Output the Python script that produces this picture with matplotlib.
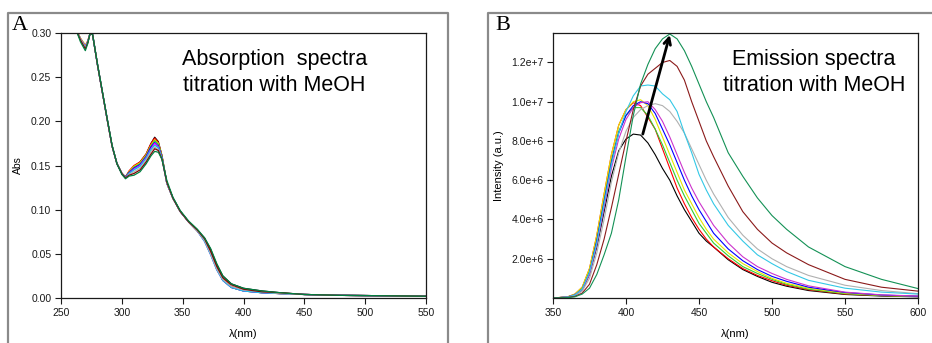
import matplotlib
matplotlib.use("Agg")
import matplotlib.pyplot as plt
from matplotlib.lines import Line2D

# ---------------- absorption titration (panel A) ----------------
abs_wl = [262, 266, 270, 272, 274, 276, 280, 284, 288, 292, 296, 300, 303, 306, 310,
          315, 320, 324, 327, 330, 333, 337, 342, 348, 355, 362, 368, 373, 378, 383,
          390, 400, 415, 430, 450, 480, 520, 550]

abs_black = [0.305, 0.293, 0.284, 0.290, 0.300, 0.298, 0.264, 0.233, 0.202, 0.172, 0.152, 0.141, 0.137, 0.143, 0.149,
             0.154, 0.163, 0.175, 0.182, 0.177, 0.161, 0.130, 0.113, 0.098, 0.086, 0.077, 0.068, 0.055, 0.038, 0.025,
             0.016, 0.011, 0.008, 0.006, 0.004, 0.003, 0.0025, 0.002]
abs_red = [0.305, 0.294, 0.286, 0.291, 0.300, 0.298, 0.264, 0.233, 0.202, 0.172, 0.152, 0.141, 0.137, 0.144, 0.150,
           0.154, 0.163, 0.175, 0.181, 0.176, 0.161, 0.130, 0.113, 0.098, 0.086, 0.076, 0.066, 0.052, 0.035, 0.022,
           0.013, 0.009, 0.007, 0.005, 0.004, 0.003, 0.0025, 0.002]
abs_yellow = [0.305, 0.294, 0.286, 0.291, 0.300, 0.298, 0.264, 0.233, 0.202, 0.172, 0.152, 0.141, 0.137, 0.143, 0.149,
              0.153, 0.162, 0.173, 0.179, 0.175, 0.160, 0.130, 0.113, 0.098, 0.086, 0.076, 0.066, 0.051, 0.034, 0.021,
              0.012, 0.008, 0.006, 0.005, 0.004, 0.003, 0.0025, 0.002]
abs_lime = [0.305, 0.293, 0.285, 0.290, 0.300, 0.298, 0.264, 0.233, 0.202, 0.172, 0.152, 0.141, 0.137, 0.142, 0.148,
            0.152, 0.161, 0.172, 0.178, 0.174, 0.160, 0.130, 0.113, 0.098, 0.086, 0.076, 0.065, 0.050, 0.033, 0.020,
            0.012, 0.008, 0.006, 0.005, 0.004, 0.003, 0.0025, 0.002]
abs_blue = [0.305, 0.293, 0.284, 0.290, 0.300, 0.298, 0.264, 0.233, 0.202, 0.172, 0.152, 0.141, 0.137, 0.142, 0.147,
            0.151, 0.160, 0.171, 0.176, 0.172, 0.159, 0.130, 0.113, 0.098, 0.086, 0.076, 0.065, 0.050, 0.033, 0.020,
            0.012, 0.008, 0.006, 0.005, 0.004, 0.003, 0.0025, 0.002]
abs_magenta = [0.305, 0.293, 0.285, 0.290, 0.300, 0.298, 0.264, 0.233, 0.202, 0.172, 0.152, 0.141, 0.136, 0.141, 0.146,
               0.150, 0.159, 0.169, 0.175, 0.171, 0.158, 0.130, 0.113, 0.098, 0.086, 0.076, 0.064, 0.049, 0.032, 0.020,
               0.012, 0.008, 0.006, 0.005, 0.004, 0.003, 0.0025, 0.002]
abs_cyan = [0.305, 0.293, 0.284, 0.290, 0.300, 0.298, 0.264, 0.233, 0.202, 0.172, 0.152, 0.141, 0.136, 0.141, 0.145,
            0.149, 0.158, 0.168, 0.173, 0.170, 0.158, 0.130, 0.113, 0.098, 0.086, 0.076, 0.064, 0.049, 0.032, 0.020,
            0.012, 0.008, 0.006, 0.005, 0.004, 0.003, 0.0025, 0.002]
abs_gray = [0.305, 0.293, 0.283, 0.289, 0.300, 0.298, 0.264, 0.233, 0.202, 0.172, 0.152, 0.141, 0.136, 0.140, 0.143,
            0.147, 0.156, 0.166, 0.171, 0.168, 0.157, 0.130, 0.113, 0.098, 0.086, 0.076, 0.065, 0.050, 0.033, 0.021,
            0.013, 0.009, 0.007, 0.005, 0.004, 0.003, 0.0025, 0.002]
abs_brown = [0.305, 0.292, 0.282, 0.289, 0.300, 0.298, 0.264, 0.233, 0.202, 0.172, 0.152, 0.141, 0.136, 0.139, 0.141,
             0.145, 0.154, 0.163, 0.169, 0.167, 0.157, 0.131, 0.113, 0.098, 0.086, 0.077, 0.067, 0.053, 0.036, 0.023,
             0.015, 0.010, 0.007, 0.006, 0.004, 0.003, 0.0025, 0.002]
abs_seagreen = [0.305, 0.290, 0.280, 0.288, 0.300, 0.298, 0.265, 0.234, 0.203, 0.173, 0.152, 0.140, 0.135, 0.138, 0.139,
                0.143, 0.152, 0.161, 0.166, 0.165, 0.157, 0.133, 0.114, 0.099, 0.087, 0.078, 0.068, 0.056, 0.039, 0.025,
                0.016, 0.011, 0.008, 0.006, 0.004, 0.003, 0.0025, 0.002]

# ---------------- emission titration (panel B), intensity in 1e6 a.u. ----------------
em_wl = [350, 360, 365, 370, 375, 380, 385, 390, 395, 400, 405, 410, 415, 420, 425, 430,
         435, 440, 445, 450, 455, 460, 470, 480, 490, 500, 510, 525, 550, 575, 600]

em_black = [0, 0.05, 0.15, 0.40, 1.2, 2.6, 4.4, 6.2, 7.5, 8.1, 8.35, 8.3, 7.9, 7.3, 6.6, 6.0,
            5.2, 4.5, 3.9, 3.3, 2.9, 2.6, 1.95, 1.45, 1.1, 0.8, 0.6, 0.38, 0.18, 0.10, 0.06]
em_red = [0, 0.06, 0.20, 0.55, 1.5, 3.2, 5.3, 7.3, 8.8, 9.6, 9.95, 9.8, 9.2, 8.6, 7.6, 6.6,
          5.6, 4.8, 4.1, 3.5, 3.0, 2.6, 2.0, 1.5, 1.15, 0.88, 0.65, 0.42, 0.20, 0.12, 0.08]
em_lime = [0, 0.05, 0.18, 0.50, 1.4, 3.0, 5.0, 7.0, 8.5, 9.3, 9.7, 9.7, 9.3, 8.6, 7.8, 6.9,
           6.0, 5.2, 4.5, 3.8, 3.3, 2.8, 2.15, 1.6, 1.25, 0.95, 0.7, 0.45, 0.22, 0.12, 0.08]
em_yellow = [0, 0.06, 0.20, 0.55, 1.5, 3.2, 5.3, 7.3, 8.8, 9.6, 10.0, 10.1, 9.8, 9.1, 8.2, 7.3,
             6.4, 5.5, 4.8, 4.1, 3.5, 3.0, 2.3, 1.75, 1.35, 1.0, 0.75, 0.5, 0.25, 0.14, 0.08]
em_blue = [0, 0.05, 0.16, 0.45, 1.3, 2.9, 4.9, 6.9, 8.4, 9.3, 9.8, 10.0, 9.9, 9.4, 8.6, 7.8,
           6.9, 6.0, 5.2, 4.5, 3.9, 3.3, 2.5, 1.9, 1.45, 1.1, 0.85, 0.55, 0.28, 0.15, 0.09]
em_magenta = [0, 0.05, 0.15, 0.42, 1.2, 2.7, 4.6, 6.6, 8.1, 9.1, 9.7, 9.95, 10.0, 9.6, 9.0, 8.2,
              7.3, 6.4, 5.6, 4.9, 4.3, 3.7, 2.8, 2.1, 1.6, 1.25, 0.95, 0.62, 0.30, 0.16, 0.10]
em_gray = [0, 0.04, 0.12, 0.35, 1.0, 2.3, 4.0, 5.9, 7.4, 8.5, 9.2, 9.6, 9.8, 9.9, 9.8, 9.5,
           9.0, 8.4, 7.6, 6.8, 6.0, 5.3, 4.1, 3.2, 2.5, 2.0, 1.6, 1.15, 0.65, 0.38, 0.22]
em_cyan = [0, 0.05, 0.15, 0.45, 1.3, 2.8, 4.8, 6.8, 8.4, 9.5, 10.3, 10.8, 10.85, 10.8, 10.4, 10.1,
           9.5, 8.4, 7.4, 6.3, 5.5, 4.8, 3.7, 2.9, 2.2, 1.75, 1.35, 0.9, 0.5, 0.3, 0.2]
em_brown = [0, 0.03, 0.08, 0.25, 0.7, 1.7, 3.0, 4.6, 6.3, 8.0, 9.6, 10.8, 11.4, 11.7, 12.0, 12.1,
            11.8, 11.1, 10.0, 9.0, 8.0, 7.2, 5.7, 4.4, 3.5, 2.8, 2.3, 1.7, 0.95, 0.55, 0.35]
em_seagreen = [0, 0.02, 0.06, 0.20, 0.5, 1.2, 2.2, 3.3, 5.0, 7.2, 9.3, 10.9, 11.9, 12.7, 13.2, 13.45,
               13.2, 12.6, 11.8, 10.9, 10.0, 9.2, 7.4, 6.2, 5.1, 4.2, 3.5, 2.6, 1.6, 0.95, 0.48]

series_colors = ["#000000", "#ff0000", "#e6e600", "#33cc33", "#0000ff",
                 "#ff00ff", "#00ccee", "#b0b0b0", "#800000", "#008040"]
em_colors = ["#000000", "#ff0000", "#33cc33", "#e6e600", "#0000ff",
             "#cc33cc", "#b0b0b0", "#33c8e6", "#8b1a1a", "#139155"]

abs_series = [abs_black, abs_red, abs_yellow, abs_lime, abs_blue,
              abs_magenta, abs_cyan, abs_gray, abs_brown, abs_seagreen]
em_series = [em_black, em_red, em_lime, em_yellow, em_blue,
             em_magenta, em_gray, em_cyan, em_brown, em_seagreen]

abs_xticks = [250, 300, 350, 400, 450, 500, 550]
abs_yticks = [0.00, 0.05, 0.10, 0.15, 0.20, 0.25, 0.30]
abs_ylabels = ["0.00", "0.05", "0.10", "0.15", "0.20", "0.25", "0.30"]
em_xticks = [350, 400, 450, 500, 550, 600]
em_yticks = [2.0, 4.0, 6.0, 8.0, 10.0, 12.0]
em_ylabels = ["2.0e+6", "4.0e+6", "6.0e+6", "8.0e+6", "1.0e+7", "1.2e+7"]

# arrow marking the red shift / intensity rise, (wavelength, 1e6 a.u.)
arrow_start = (411.5, 8.35)
arrow_end = (430.0, 13.4)

W, H = 932, 343
plt.rcParams["font.family"] = ["Liberation Sans", "DejaVu Sans"]
fig = plt.figure(figsize=(W / 100, H / 100), dpi=100)


def fx(px):
    return px / W


def fy(py):
    return 1 - py / H


def style_axes(ax):
    for s in ax.spines.values():
        s.set_linewidth(0.9)
        s.set_color("#1a1a1a")
    ax.tick_params(direction="out", length=4, width=0.8, labelsize=7.5, pad=3,
                   colors="#1a1a1a")
    ax.tick_params(top=False, right=False)


# panel frames
frame_kw = dict(color="#8a8a8a", lw=1.6, transform=fig.transFigure)
fig.add_artist(Line2D([fx(8), fx(8), fx(448), fx(448)], [fy(345), fy(13), fy(13), fy(345)], **frame_kw))
fig.add_artist(Line2D([fx(488), fx(488), fx(934)], [fy(345), fy(13), fy(13)], **frame_kw))

# ---- panel A
axA = fig.add_axes([fx(61), fy(298), fx(426) - fx(61), fy(33) - fy(298)])
for vals, c in zip(abs_series, series_colors):
    axA.plot(abs_wl, vals, color=c, lw=0.9)
axA.set_xlim(250, 550)
axA.set_ylim(0, 0.30)
axA.set_xticks(abs_xticks)
axA.set_yticks(abs_yticks)
axA.set_yticklabels(abs_ylabels)
style_axes(axA)
axA.set_ylabel("Abs", fontsize=7.5, labelpad=6)
axA.set_xlabel("λ(nm)", fontsize=8, labelpad=8)
axA.text(0.585, 0.85, "Absorption  spectra\ntitration with MeOH", transform=axA.transAxes,
         ha="center", va="center", fontsize=15.5, linespacing=1.3)
fig.text(fx(12), fy(25), "A", family=["Liberation Serif", "DejaVu Serif"], fontsize=16,
         ha="left", va="center")

# ---- panel B
axB = fig.add_axes([fx(553), fy(298), fx(918) - fx(553), fy(33) - fy(298)])
for vals, c in zip(em_series, em_colors):
    axB.plot(em_wl, vals, color=c, lw=0.8)
axB.set_xlim(350, 600)
axB.set_ylim(0, 13.5)
axB.set_xticks(em_xticks)
axB.set_yticks(em_yticks)
axB.set_yticklabels(em_ylabels)
style_axes(axB)
axB.set_ylabel("Intensity (a.u.)", fontsize=8, labelpad=5)
axB.set_xlabel("λ(nm)", fontsize=8, labelpad=8)
axB.text(0.715, 0.85, "Emission spectra\ntitration with MeOH", transform=axB.transAxes,
         ha="center", va="center", fontsize=15.5, linespacing=1.3)
axB.annotate("", xy=arrow_end, xytext=arrow_start,
             arrowprops=dict(arrowstyle="->", lw=2.0, color="black", mutation_scale=12,
                             shrinkA=0, shrinkB=0))
fig.text(fx(495), fy(25), "B", family=["Liberation Serif", "DejaVu Serif"], fontsize=16,
         ha="left", va="center")

fig.savefig("out.png", dpi=100)
